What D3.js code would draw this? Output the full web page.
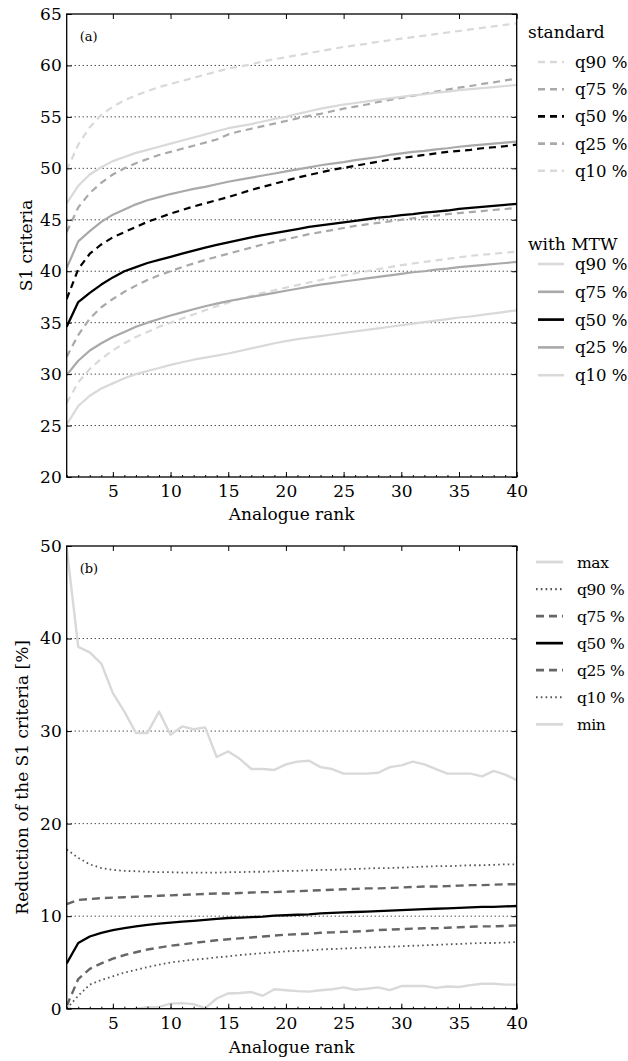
<!DOCTYPE html>
<html>
<head>
<meta charset="utf-8">
<script src="https://cdn.jsdelivr.net/npm/d3@7/dist/d3.min.js"></script>
<style>
  body { margin: 0; background: #fff; }
  svg { display: block; font-family: "DejaVu Serif", serif; }
</style>
</head>
<body>
<div id="viz"></div>
<script>
// analogue ranks 1..40
const ranks = d3.range(1, 41);

// panel (a): S1 criteria, standard method (dashed)
const stdQ90 = [49.8,52.3,54.0,55.2,56.0,56.6,57.1,57.5,57.9,58.2,58.5,58.8,59.1,59.4,59.7,59.9,60.1,60.4,60.6,60.8,61.0,61.2,61.4,61.6,61.8,61.95,62.1,62.3,62.45,62.6,62.75,62.9,63.05,63.2,63.35,63.5,63.65,63.8,63.95,64.1];
const stdQ75 = [43.8,46.2,47.6,48.6,49.4,50.0,50.5,50.9,51.3,51.6,51.9,52.2,52.5,52.8,53.3,53.6,53.85,54.1,54.35,54.6,54.85,55.1,55.3,55.55,55.8,56.0,56.2,56.45,56.65,56.85,57.05,57.25,57.45,57.65,57.85,58.0,58.2,58.35,58.55,58.7];
const stdQ50 = [37.3,40.2,41.7,42.6,43.3,43.8,44.3,44.8,45.2,45.6,45.95,46.3,46.6,46.9,47.2,47.55,47.9,48.2,48.5,48.8,49.1,49.35,49.6,49.85,50.05,50.25,50.45,50.65,50.85,51.0,51.15,51.3,51.45,51.6,51.7,51.8,51.95,52.05,52.15,52.3];
const stdQ25 = [31.7,33.8,35.4,36.5,37.3,38.0,38.6,39.15,39.6,40.0,40.4,40.75,41.1,41.4,41.7,42.0,42.3,42.6,42.85,43.1,43.35,43.6,43.8,44.0,44.2,44.4,44.55,44.7,44.85,45.0,45.15,45.3,45.4,45.55,45.65,45.75,45.85,45.95,46.05,46.15];
const stdQ10 = [27.2,29.2,30.5,31.5,32.3,33.0,33.6,34.1,34.6,35.0,35.4,35.8,36.2,36.6,36.95,37.3,37.6,37.9,38.15,38.4,38.65,38.9,39.15,39.4,39.6,39.8,40.0,40.2,40.4,40.6,40.75,40.9,41.05,41.2,41.35,41.5,41.6,41.7,41.8,41.9];

// panel (a): S1 criteria, with MTW (solid)
const mtwQ90 = [46.6,48.3,49.4,50.1,50.7,51.1,51.5,51.8,52.1,52.4,52.7,53.0,53.3,53.6,53.9,54.1,54.3,54.55,54.8,55.0,55.3,55.55,55.8,56.0,56.2,56.35,56.5,56.65,56.8,56.95,57.1,57.2,57.35,57.45,57.6,57.7,57.8,57.9,58.0,58.1];
const mtwQ75 = [40.3,42.9,43.9,44.8,45.5,46.0,46.5,46.9,47.2,47.5,47.75,48.0,48.2,48.45,48.7,48.9,49.1,49.3,49.5,49.7,49.9,50.1,50.3,50.45,50.6,50.8,50.95,51.1,51.3,51.45,51.6,51.7,51.85,51.95,52.1,52.2,52.3,52.4,52.5,52.6];
const mtwQ50 = [34.6,37.0,37.9,38.7,39.4,40.0,40.4,40.8,41.1,41.4,41.7,42.0,42.3,42.55,42.8,43.05,43.3,43.5,43.7,43.9,44.1,44.3,44.45,44.6,44.75,44.9,45.05,45.2,45.3,45.45,45.55,45.7,45.8,45.9,46.05,46.15,46.25,46.35,46.45,46.55];
const mtwQ25 = [29.9,31.3,32.3,33.0,33.6,34.1,34.6,35.0,35.35,35.7,36.0,36.3,36.6,36.85,37.1,37.3,37.5,37.7,37.9,38.1,38.3,38.5,38.7,38.85,39.0,39.15,39.3,39.45,39.6,39.75,39.9,40.0,40.15,40.25,40.4,40.5,40.6,40.7,40.8,40.9];
const mtwQ10 = [25.1,26.9,27.9,28.6,29.1,29.6,30.0,30.3,30.6,30.9,31.15,31.4,31.6,31.8,32.0,32.25,32.5,32.75,33.0,33.2,33.4,33.55,33.7,33.85,34.0,34.15,34.3,34.45,34.6,34.75,34.9,35.05,35.2,35.35,35.5,35.6,35.75,35.9,36.05,36.2];

// panel (b): reduction of the S1 criteria [%]
const redMax = [49.8,39.1,38.5,37.3,34.1,32.1,29.8,29.8,32.1,29.6,30.5,30.2,30.4,27.2,27.8,27.0,25.9,25.9,25.8,26.4,26.7,26.8,26.1,25.9,25.4,25.4,25.4,25.5,26.1,26.3,26.7,26.4,25.9,25.4,25.4,25.4,25.1,25.7,25.3,24.7];
const redQ90 = [17.2,16.3,15.6,15.2,15.0,14.9,14.85,14.8,14.75,14.75,14.7,14.7,14.7,14.7,14.75,14.75,14.8,14.8,14.85,14.9,14.9,14.95,15.0,15.0,15.05,15.1,15.15,15.2,15.2,15.25,15.3,15.35,15.4,15.4,15.45,15.5,15.5,15.55,15.6,15.6];
const redQ75 = [11.3,11.75,11.85,11.95,12.0,12.05,12.1,12.15,12.2,12.25,12.3,12.35,12.4,12.45,12.45,12.5,12.55,12.6,12.6,12.65,12.7,12.75,12.8,12.85,12.9,12.95,13.0,13.0,13.05,13.1,13.15,13.2,13.2,13.25,13.3,13.35,13.35,13.4,13.45,13.45];
const redQ50 = [4.9,7.1,7.8,8.2,8.5,8.7,8.9,9.05,9.2,9.3,9.4,9.5,9.6,9.7,9.8,9.85,9.9,9.95,10.05,10.1,10.15,10.2,10.3,10.35,10.4,10.45,10.5,10.55,10.6,10.65,10.7,10.75,10.8,10.85,10.9,10.95,11.0,11.0,11.05,11.1];
const redQ25 = [0.3,3.2,4.3,4.9,5.4,5.8,6.1,6.4,6.6,6.8,6.95,7.1,7.25,7.4,7.5,7.6,7.7,7.8,7.9,8.0,8.05,8.1,8.2,8.25,8.3,8.35,8.4,8.5,8.55,8.6,8.65,8.7,8.7,8.75,8.8,8.85,8.9,8.9,8.95,9.0];
const redQ10 = [0.0,1.4,2.6,3.1,3.5,3.9,4.2,4.5,4.75,5.0,5.15,5.3,5.4,5.55,5.65,5.8,5.9,6.0,6.1,6.2,6.25,6.3,6.4,6.45,6.5,6.55,6.6,6.65,6.7,6.75,6.8,6.85,6.9,6.95,7.0,7.05,7.1,7.1,7.15,7.2];
const redMin = [0.3,-0.5,-0.8,-0.6,-0.4,-0.2,0.0,0.15,0.2,0.55,0.6,0.5,0.05,1.1,1.65,1.7,1.8,1.4,2.1,2.0,1.9,1.85,2.0,2.1,2.3,2.05,2.15,2.3,2.0,2.45,2.45,2.45,2.25,2.4,2.35,2.55,2.7,2.7,2.6,2.6];

const xTicks = [5, 10, 15, 20, 25, 30, 35, 40];
const topYTicks = [20, 25, 30, 35, 40, 45, 50, 55, 60, 65];
const botYTicks = [0, 10, 20, 30, 40, 50];

const W = 628, H = 1061;
const svg = d3.select('#viz').append('svg')
    .attr('width', W)
    .attr('height', H);

const left = 66.7, plotW = 450;
const x = d3.scaleLinear().domain([1, 40]).range([0, plotW]);

const light = '#d9d9d9', mid = '#a9a9a9', dark = '#666666';
const dash = '7,5';

function drawPanel(opts) {
    const g = svg.append('g').attr('transform', `translate(${left},${opts.top})`);
    const y = d3.scaleLinear().domain(opts.yDomain).range([opts.height, 0]);

    g.append('clipPath').attr('id', opts.id + '-clip')
        .append('rect').attr('width', plotW).attr('height', opts.height);

    // dotted grid
    g.append('g').selectAll('line')
        .data(opts.yTicks.slice(1, -1))
        .enter().append('line')
        .attr('x1', 0).attr('x2', plotW)
        .attr('y1', d => y(d)).attr('y2', d => y(d))
        .attr('stroke', '#000')
        .attr('stroke-width', 1)
        .attr('stroke-dasharray', '1,3');

    // curves
    const line = d3.line().x((d, i) => x(ranks[i])).y(d => y(d));
    g.append('g').attr('clip-path', `url(#${opts.id}-clip)`)
        .selectAll('path')
        .data(opts.series)
        .enter().append('path')
        .attr('d', d => line(d.values))
        .attr('fill', 'none')
        .attr('stroke', d => d.color)
        .attr('stroke-width', d => d.width)
        .attr('stroke-dasharray', d => d.dash || null)
        .attr('stroke-linejoin', 'round');

    // axes, ticks pointing inward
    g.append('g').attr('transform', `translate(0,${opts.height})`)
        .call(d3.axisBottom(x).tickValues(xTicks).tickSize(-5).tickPadding(8));
    g.append('g').attr('transform', `translate(0,${opts.height})`)
        .call(d3.axisBottom(x).tickValues(ranks).tickSize(-2).tickFormat(''));
    g.append('g')
        .call(d3.axisTop(x).tickValues(xTicks).tickSize(-5).tickFormat(''));
    g.append('g')
        .call(d3.axisLeft(y).tickValues(opts.yTicks).tickSize(-5).tickPadding(5));
    g.append('g').attr('transform', `translate(${plotW},0)`)
        .call(d3.axisRight(y).tickValues(opts.yTicks).tickSize(-5).tickFormat(''));

    g.selectAll('.domain').attr('stroke', 'none');
    g.selectAll('.tick line').attr('stroke', '#000').attr('stroke-width', 1);
    g.selectAll('.tick text').attr('font-size', 17).attr('fill', '#000')
        .attr('font-family', '"DejaVu Serif", serif');

    g.append('rect')
        .attr('width', plotW).attr('height', opts.height)
        .attr('fill', 'none').attr('stroke', '#000').attr('stroke-width', 1.3);

    g.append('text').attr('x', 13).attr('y', opts.labelY)
        .attr('font-size', 13).text(opts.label);

    g.append('text')
        .attr('x', plotW / 2).attr('y', opts.height + opts.xTitleY)
        .attr('text-anchor', 'middle').attr('font-size', 17)
        .text('Analogue rank');

    g.append('text')
        .attr('transform', `translate(${opts.yTitleX},${opts.height / 2}) rotate(-90)`)
        .attr('text-anchor', 'middle').attr('font-size', 17)
        .text(opts.yTitle);
}

function drawLegend(items, x0, x1, tx, y0, step, fs, ls) {
    const lg = svg.append('g');
    items.forEach((d, i) => {
        const yy = y0 + i * step;
        lg.append('line')
            .attr('x1', x0).attr('x2', x1).attr('y1', yy).attr('y2', yy)
            .attr('stroke', d.color).attr('stroke-width', d.width + 0.4)
            .attr('stroke-dasharray', d.dash || null);
        lg.append('text').attr('x', tx).attr('y', yy + 6)
            .attr('font-size', fs).attr('letter-spacing', ls).text(d.name);
    });
}

// panel (a)
const stdSeries = [
    {name: 'q90 %', values: stdQ90, color: light, width: 2.2, dash: dash},
    {name: 'q75 %', values: stdQ75, color: mid, width: 2.2, dash: dash},
    {name: 'q50 %', values: stdQ50, color: '#000', width: 2.2, dash: dash},
    {name: 'q25 %', values: stdQ25, color: mid, width: 2.2, dash: dash},
    {name: 'q10 %', values: stdQ10, color: light, width: 2.2, dash: dash}
];
const mtwSeries = [
    {name: 'q90 %', values: mtwQ90, color: light, width: 2.2},
    {name: 'q75 %', values: mtwQ75, color: mid, width: 2.2},
    {name: 'q50 %', values: mtwQ50, color: '#000', width: 2.3},
    {name: 'q25 %', values: mtwQ25, color: mid, width: 2.2},
    {name: 'q10 %', values: mtwQ10, color: light, width: 2.2}
];

drawPanel({
    id: 'a', top: 14, height: 463, yDomain: [20, 65], yTicks: topYTicks,
    series: stdSeries.concat(mtwSeries), label: '(a)', labelY: 27,
    xTitleY: 43, yTitleX: -35, yTitle: 'S1 criteria'
});

svg.append('text').attr('x', 528).attr('y', 38).attr('font-size', 17).text('standard');
drawLegend(stdSeries, 538, 564, 575, 62, 27.2, 16.5, 0);
svg.append('text').attr('x', 528).attr('y', 250).attr('font-size', 17).text('with MTW');
drawLegend(mtwSeries, 538, 564, 575, 264, 27.8, 16.5, 0);

// panel (b)
const redSeries = [
    {name: 'max', values: redMax, color: light, width: 2.4},
    {name: 'q90 %', values: redQ90, color: '#555', width: 1.8, dash: '1.6,3.2'},
    {name: 'q75 %', values: redQ75, color: dark, width: 2.4, dash: '8,5'},
    {name: 'q50 %', values: redQ50, color: '#000', width: 2.3},
    {name: 'q25 %', values: redQ25, color: dark, width: 2.4, dash: '8,5'},
    {name: 'q10 %', values: redQ10, color: '#555', width: 1.8, dash: '1.6,3.2'},
    {name: 'min', values: redMin, color: light, width: 2.4}
];

drawPanel({
    id: 'b', top: 546, height: 462.7, yDomain: [0, 50], yTicks: botYTicks,
    series: redSeries, label: '(b)', labelY: 27,
    xTitleY: 44, yTitleX: -39, yTitle: 'Reduction of the S1 criteria [%]'
});

drawLegend(redSeries, 536, 563, 577, 562, 27.05, 15.5, -0.4);
</script>
</body>
</html>
